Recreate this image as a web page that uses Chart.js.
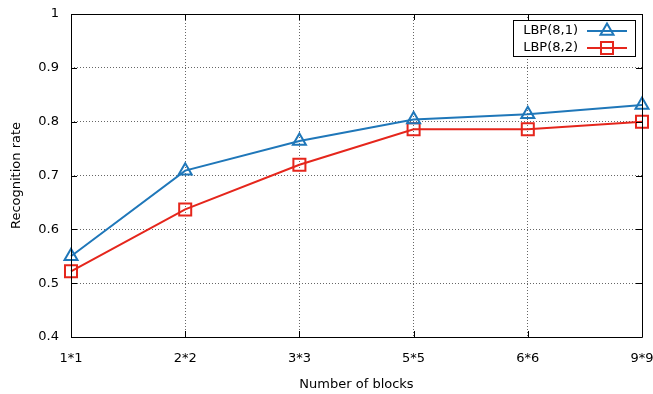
<!DOCTYPE html>
<html>
<head>
<meta charset="utf-8">
<script src="https://cdn.jsdelivr.net/npm/chart.js@4/dist/chart.umd.min.js"></script>
<style>
  html, body { margin: 0; padding: 0; background: #fff; }
  #wrap { width: 653px; height: 394px; }
</style>
</head>
<body>
<div id="wrap"><canvas id="c" width="653" height="394"></canvas></div>
<script>
// Block grid sizes on the x axis
const blocks = ['1*1', '2*2', '3*3', '5*5', '6*6', '9*9'];
// Recognition rates per descriptor configuration
const lbp81 = [0.550, 0.709, 0.764, 0.804, 0.814, 0.831];
const lbp82 = [0.522, 0.637, 0.720, 0.786, 0.786, 0.800];
const seriesNames = ['LBP(8,1)', 'LBP(8,2)'];
// Y axis range and step
const yMin = 0.4, yMax = 1.0, yStep = 0.1;

const BLUE = '#1f77b9';
const RED = '#e5261c';
const FONT = 'DejaVu Sans';

// Black frame around the plot with inward tick marks on all four sides
const framePlugin = {
  id: 'frame',
  afterDatasetsDraw(chart) {
    const { ctx, chartArea: a, scales } = chart;
    ctx.save();
    ctx.strokeStyle = '#000';
    ctx.lineWidth = 1;
    ctx.beginPath();
    ctx.rect(Math.round(a.left) + 0.5, Math.round(a.top) + 0.5,
             Math.round(a.right - a.left), Math.round(a.bottom - a.top));
    ctx.stroke();
    const len = 6;
    ctx.beginPath();
    scales.y.ticks.forEach(t => {
      const y = Math.round(scales.y.getPixelForValue(t.value)) + 0.5;
      ctx.moveTo(a.left, y); ctx.lineTo(a.left + len, y);
      ctx.moveTo(a.right, y); ctx.lineTo(a.right - len, y);
    });
    scales.x.ticks.forEach((t, i) => {
      const x = Math.round(scales.x.getPixelForValue(i)) + 0.5;
      ctx.moveTo(x, a.bottom); ctx.lineTo(x, a.bottom - len);
      ctx.moveTo(x, a.top); ctx.lineTo(x, a.top + len);
    });
    ctx.stroke();
    ctx.restore();
  }
};

// Boxed key in the upper right: label, then a line sample with its marker
const keyPlugin = {
  id: 'key',
  afterDatasetsDraw(chart) {
    const { ctx, chartArea: a } = chart;
    const boxR = a.right - 7, boxT = a.top + 6, boxW = 122, boxH = 36;
    ctx.save();
    ctx.fillStyle = '#fff';
    ctx.fillRect(boxR - boxW, boxT, boxW, boxH);
    ctx.strokeStyle = '#000';
    ctx.lineWidth = 1;
    ctx.strokeRect(Math.round(boxR - boxW) + 0.5, Math.round(boxT) + 0.5, boxW, boxH);
    ctx.font = '13px "' + FONT + '"';
    ctx.textAlign = 'right';
    ctx.textBaseline = 'middle';
    chart.data.datasets.forEach((ds, i) => {
      const y = boxT + 11 + i * 17;
      ctx.fillStyle = '#000';
      ctx.fillText(ds.label, boxR - 57, y);
      const x0 = boxR - 48, x1 = boxR - 8;
      ctx.strokeStyle = ds.borderColor;
      ctx.lineWidth = 2;
      ctx.beginPath();
      ctx.moveTo(x0, y); ctx.lineTo(x1, y);
      ctx.stroke();
      ctx.fillStyle = 'rgba(0,0,0,0)';
      Chart.helpers.drawPoint(ctx, {
        pointStyle: ds.pointStyle, radius: ds.pointRadius, rotation: 0, borderWidth: 2
      }, (x0 + x1) / 2, y);
    });
    ctx.restore();
  }
};

new Chart(document.getElementById('c'), {
  type: 'line',
  data: {
    labels: blocks,
    datasets: [
      {
        label: seriesNames[0], data: lbp81,
        borderColor: BLUE, backgroundColor: 'rgba(0,0,0,0)',
        borderWidth: 2, pointStyle: 'triangle', pointRadius: 7.5,
        pointBorderWidth: 2, pointBorderColor: BLUE, pointBackgroundColor: 'rgba(0,0,0,0)',
        tension: 0
      },
      {
        label: seriesNames[1], data: lbp82,
        borderColor: RED, backgroundColor: 'rgba(0,0,0,0)',
        borderWidth: 2, pointStyle: 'rect', pointRadius: 8.5,
        pointBorderWidth: 2, pointBorderColor: RED, pointBackgroundColor: 'rgba(0,0,0,0)',
        tension: 0
      }
    ]
  },
  options: {
    responsive: false,
    animation: false,
    devicePixelRatio: 1,
    clip: false,
    layout: { padding: { top: 14, right: 11, left: 0, bottom: 0 } },
    plugins: { legend: { display: false }, tooltip: { enabled: false } },
    scales: {
      x: {
        offset: false,
        grid: { color: '#666', lineWidth: 1, drawTicks: false },
        border: { display: false, dash: [1, 2] },
        ticks: { color: '#000', font: { family: FONT, size: 13 }, padding: 14, maxRotation: 0, autoSkip: false },
        title: { display: true, text: 'Number of blocks', color: '#000', font: { family: FONT, size: 13 }, padding: { top: 0, bottom: 2 } },
        afterFit(s) { s.height = 57; s.paddingLeft = 0; s.paddingRight = 0; }
      },
      y: {
        min: yMin, max: yMax,
        grid: { color: '#666', lineWidth: 1, drawTicks: false },
        border: { display: false, dash: [1, 2] },
        ticks: {
          stepSize: yStep, color: '#000', font: { family: FONT, size: 13 }, padding: 12,
          callback: v => String(Math.round(v * 10) / 10)
        },
        title: { display: true, text: 'Recognition rate', color: '#000', font: { family: FONT, size: 13 }, padding: { top: 9, bottom: 0 } },
        afterFit(s) { s.width = 71; s.paddingTop = 0; s.paddingBottom = 0; }
      }
    }
  },
  plugins: [framePlugin, keyPlugin]
});
</script>
</body>
</html>
